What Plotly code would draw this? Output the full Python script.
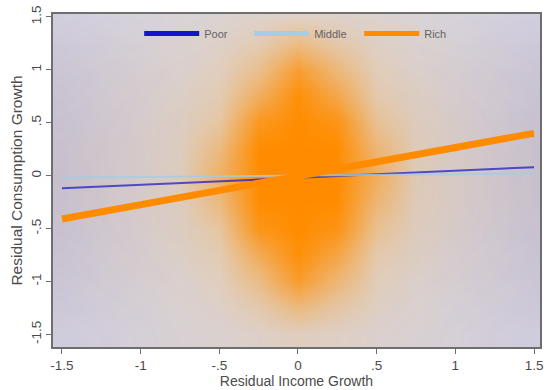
import plotly.graph_objects as go

# ---------------- data ----------------
groups = ["Poor", "Middle", "Rich"]
line_x = [-1.5, 1.5]
poor_fit = [-0.12, 0.08]
middle_fit = [-0.02, 0.02]
rich_fit = [-0.41, 0.40]

# estimated point density of each group's scatter cloud (0 = empty, 1 = solid)
coarse_x = [-1.5, -1.0, -0.5, 0.0, 0.5, 1.0, 1.5]
coarse_y = [-1.5, -1.0, -0.5, 0.0, 0.5, 1.0, 1.5]
poor_density = [
    [0.55, 0.45, 0.36, 0.30, 0.36, 0.45, 0.55],
    [0.62, 0.45, 0.28, 0.22, 0.28, 0.45, 0.62],
    [0.68, 0.45, 0.24, 0.16, 0.24, 0.45, 0.68],
    [0.70, 0.45, 0.22, 0.15, 0.22, 0.45, 0.70],
    [0.68, 0.45, 0.24, 0.16, 0.24, 0.45, 0.68],
    [0.62, 0.45, 0.28, 0.22, 0.28, 0.45, 0.62],
    [0.52, 0.42, 0.34, 0.28, 0.34, 0.42, 0.52],
]
middle_density = [
    [0.40, 0.45, 0.50, 0.52, 0.50, 0.45, 0.40],
    [0.45, 0.50, 0.55, 0.58, 0.55, 0.50, 0.45],
    [0.48, 0.54, 0.60, 0.62, 0.60, 0.54, 0.48],
    [0.50, 0.55, 0.62, 0.65, 0.62, 0.55, 0.50],
    [0.48, 0.54, 0.60, 0.62, 0.60, 0.54, 0.48],
    [0.45, 0.50, 0.55, 0.58, 0.55, 0.50, 0.45],
    [0.38, 0.42, 0.48, 0.50, 0.48, 0.42, 0.38],
]
fine_x = [-1.5, -1.25, -1.0, -0.75, -0.5, -0.25, 0.0, 0.25, 0.5, 0.75, 1.0, 1.25, 1.5]
fine_y = [-1.5, -1.25, -1.0, -0.75, -0.5, -0.25, 0.0, 0.25, 0.5, 0.75, 1.0, 1.25, 1.5]
rich_density = [
    [0.09, 0.10, 0.11, 0.13, 0.15, 0.18, 0.22, 0.19, 0.16, 0.13, 0.11, 0.10, 0.09],
    [0.10, 0.11, 0.12, 0.14, 0.18, 0.28, 0.48, 0.32, 0.20, 0.15, 0.12, 0.11, 0.10],
    [0.11, 0.12, 0.14, 0.16, 0.22, 0.45, 0.82, 0.52, 0.24, 0.17, 0.14, 0.12, 0.11],
    [0.12, 0.13, 0.15, 0.18, 0.26, 0.65, 0.97, 0.72, 0.29, 0.20, 0.15, 0.13, 0.12],
    [0.13, 0.14, 0.16, 0.20, 0.34, 0.90, 1.00, 0.92, 0.40, 0.22, 0.17, 0.14, 0.13],
    [0.14, 0.15, 0.17, 0.21, 0.48, 1.00, 1.00, 1.00, 0.52, 0.24, 0.18, 0.15, 0.14],
    [0.14, 0.15, 0.17, 0.22, 0.58, 1.00, 1.00, 1.00, 0.62, 0.25, 0.18, 0.15, 0.14],
    [0.14, 0.15, 0.17, 0.21, 0.48, 1.00, 1.00, 1.00, 0.52, 0.24, 0.18, 0.15, 0.14],
    [0.13, 0.14, 0.16, 0.20, 0.34, 0.88, 1.00, 0.92, 0.40, 0.22, 0.17, 0.14, 0.13],
    [0.12, 0.13, 0.15, 0.18, 0.26, 0.62, 0.97, 0.70, 0.29, 0.20, 0.15, 0.13, 0.12],
    [0.11, 0.12, 0.14, 0.16, 0.22, 0.42, 0.80, 0.50, 0.24, 0.17, 0.14, 0.12, 0.11],
    [0.10, 0.11, 0.12, 0.14, 0.18, 0.26, 0.45, 0.30, 0.19, 0.15, 0.12, 0.11, 0.10],
    [0.08, 0.09, 0.10, 0.12, 0.14, 0.17, 0.20, 0.18, 0.15, 0.12, 0.10, 0.09, 0.08],
]

tick_vals = [-1.5, -1.0, -0.5, 0.0, 0.5, 1.0, 1.5]
tick_text = ["-1.5", "-1", "-.5", "0", ".5", "1", "1.5"]

# ---------------- styling ----------------
POOR = "rgb(20,20,200)"
MIDDLE = "rgb(165,205,228)"
RICH = "rgb(255,140,0)"
GRAY = "rgb(110,110,110)"
TXT = "rgb(75,75,75)"
FONT = "Liberation Sans, Arial, sans-serif"

fig = go.Figure()

def cloud(x, y, z, rgb, amax):
    return go.Heatmap(
        x=x, y=y, z=z, zmin=0, zmax=1, zsmooth="best", showscale=False,
        hoverinfo="skip",
        colorscale=[[0, f"rgba({rgb},0)"], [1, f"rgba({rgb},{amax})"]],
    )

def fit(y, color, width, opacity=1.0):
    return go.Scatter(x=line_x, y=y, mode="lines", showlegend=False,
                      opacity=opacity, line=dict(color=color, width=width))

fig.add_trace(cloud(coarse_x, coarse_y, poor_density, "20,20,200", 0.34))
fig.add_trace(fit(poor_fit, POOR, 2, 0.7))
fig.add_trace(cloud(coarse_x, coarse_y, middle_density, "165,205,228", 0.45))
fig.add_trace(fit(middle_fit, MIDDLE, 2, 0.8))
fig.add_trace(cloud(fine_x, fine_y, rich_density, "255,140,0", 1.0))
fig.add_trace(fit(rich_fit, RICH, 7))

# legend keys
for name, color in zip(groups, [POOR, MIDDLE, RICH]):
    fig.add_trace(go.Scatter(x=[None], y=[None], mode="lines", name=name,
                             line=dict(color=color, width=5)))

axis_common = dict(
    tickvals=tick_vals, ticktext=tick_text, ticks="outside", ticklen=5,
    tickcolor=GRAY, showgrid=False, zeroline=False, showline=True,
    linecolor=GRAY, linewidth=1.5, mirror=True,
    tickfont=dict(family=FONT, size=13.5, color=TXT),
)

fig.update_layout(
    width=549, height=390,
    margin=dict(l=53, r=6, t=11, b=39),
    paper_bgcolor="white", plot_bgcolor="white",
    font=dict(family=FONT, size=13, color=TXT),
    xaxis=dict(range=[-1.557, 1.538], title=dict(text="Residual Income Growth",
               standoff=1, font=dict(size=14)), **axis_common),
    yaxis=dict(range=[-1.62, 1.528], tickangle=-90,
               title=dict(text="Residual Consumption Growth", standoff=2,
                          font=dict(size=15.5)), **axis_common),
    legend=dict(orientation="h", x=0.177, y=0.985, xanchor="left", yanchor="top",
                bgcolor="rgba(0,0,0,0)", itemwidth=55,
                entrywidth=40, entrywidthmode="pixels",
                font=dict(family=FONT, size=11, color="rgb(100,100,100)")),
    showlegend=True,
)

fig.write_html("out.html")
